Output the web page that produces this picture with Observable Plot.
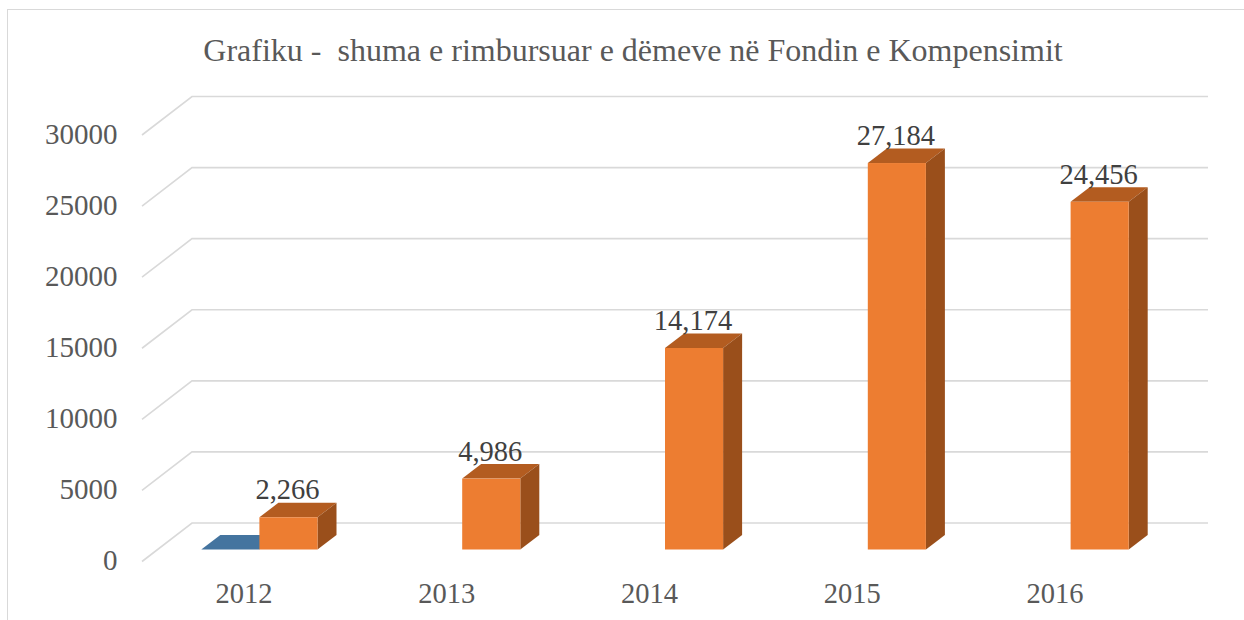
<!DOCTYPE html>
<html><head><meta charset="utf-8">
<script src="https://cdn.jsdelivr.net/npm/d3@7"></script>
<script src="https://cdn.jsdelivr.net/npm/@observablehq/plot@0.6"></script>
<style>
html,body{margin:0;padding:0;background:#fff;overflow:hidden}
#frame{position:absolute;left:7px;top:9px;right:-10px;bottom:-10px;border:1.5px solid #D9D9D9;pointer-events:none}
#title{position:absolute;left:0;top:29px;width:1266px;text-align:center;font:32px "Liberation Serif",serif;color:#595959;white-space:pre;margin:0;line-height:42px}
#chart{position:absolute;left:0;top:0}
svg{display:block}
</style></head><body>
<div id="frame"></div>
<div id="chart"></div>
<h2 id="title" style="font-weight:400">Grafiku -  shuma e rimbursuar e dëmeve në Fondin e Kompensimit</h2>
<script>
const years = [2012, 2013, 2014, 2015, 2016];
const amounts = [2266, 4986, 14174, 27184, 24456];
const amountLabels = ["2,266", "4,986", "14,174", "27,184", "24,456"];
const otherYears = [2012];
const otherValues = [0];
const yTicks = [0, 5000, 10000, 15000, 20000, 25000, 30000];

const barW = 0.2865;              // bar width in category units
const wall = {dx: 50, dy: -38.5, extra: 2}; // chart depth in px
const bar = {dx: 16, dy: -12, ddx: 19, ddy: -14.5}; // bar placement and depth in px

const orange = years.map((year, i) => ({year, value: amounts[i], label: amountLabels[i]}));
const blue = otherYears.map((year, i) => ({year, value: otherValues[i]}));

const svgNS = "http://www.w3.org/2000/svg";
function grid() {
  return (index, {x, y}) => {
    const g = document.createElementNS(svgNS, "g");
    const [x0, x1] = [x(2011.5), x(2016.5)];
    for (const t of yTicks) {
      const p = document.createElementNS(svgNS, "polyline");
      const yy = y(t);
      p.setAttribute("points", `${x0},${yy} ${x0 + wall.dx},${yy + wall.dy} ${x1 + wall.dx + wall.extra},${yy + wall.dy}`);
      p.setAttribute("fill", "none");
      p.setAttribute("stroke", "#D9D9D9");
      p.setAttribute("stroke-width", 1.6);
      g.appendChild(p);
    }
    return g;
  };
}
function faces(rows, x1Of, x2Of, topFill, sideFill) {
  return (index, {x, y}) => {
    const g = document.createElementNS(svgNS, "g");
    for (const r of rows) {
      const l = x(x1Of(r)) + bar.dx, rr = x(x2Of(r)) + bar.dx;
      const t = y(r.value) + bar.dy, b = y(0) + bar.dy;
      const poly = (pts, fill) => {
        const p = document.createElementNS(svgNS, "polygon");
        p.setAttribute("points", pts.map(d => d.join(",")).join(" "));
        p.setAttribute("fill", fill);
        g.appendChild(p);
      };
      poly([[l, t], [l + bar.ddx, t + bar.ddy], [rr + bar.ddx, t + bar.ddy], [rr, t]], topFill);
      if (sideFill) poly([[rr, t], [rr + bar.ddx, t + bar.ddy], [rr + bar.ddx, b + bar.ddy], [rr, b]], sideFill);
    }
    return g;
  };
}

const font = '"Liberation Serif", serif';
const plot = Plot.plot({
  width: 1244,
  height: 620,
  marginLeft: 142,
  marginRight: 88,
  marginTop: 135,
  marginBottom: 58.5,
  style: {background: "transparent", fontFamily: font},
  x: {domain: [2011.5, 2016.5], label: null},
  y: {domain: [0, 30000], label: null},
  marks: [
    grid(),
    faces(blue, d => d.year - barW, d => d.year, "#44749F", null),
    faces(orange, d => d.year, d => d.year + barW, "#B35C20", "#9A4F1B"),
    Plot.rectY(orange, {x1: d => d.year, x2: d => d.year + barW, y1: 0, y2: "value", fill: "#ED7D31", dx: bar.dx, dy: bar.dy}),
    Plot.text(orange, {x: d => d.year + barW / 2, y: "value", text: "label", dx: bar.dx - 1.5, dy: -39.5, fontSize: 28.5, fill: "#404040"}),
    Plot.axisX({ticks: years, tickFormat: "d", tickSize: 0, tickPadding: 20.5, fontSize: 28.5, fill: "#595959", label: null, anchor: "bottom"}),
    Plot.axisY({ticks: yTicks, tickFormat: d => String(d), tickSize: 0, tickPadding: 25, dy: -1, fontSize: 29, fill: "#595959", label: null, anchor: "left"})
  ]
});
document.getElementById("chart").appendChild(plot);
</script>
</body></html>
